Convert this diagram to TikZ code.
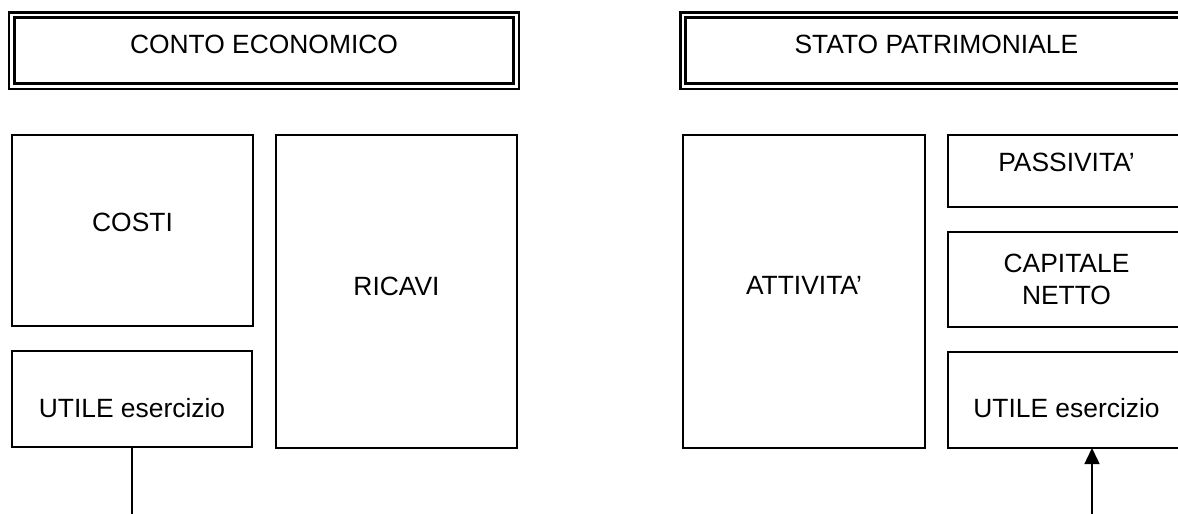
\documentclass[tikz,border=0pt]{standalone}
\usepackage{fontspec}
\setmainfont{Liberation Sans}
\usetikzlibrary{positioning, arrows.meta}

\begin{document}
\begin{tikzpicture}[x=1pt, y=-1pt, >={Triangle[length=16pt, width=15pt]},
    font=\fontsize{26.4}{32}\selectfont,
    box/.style={draw, line width=1.8pt, outer sep=0pt, inner sep=0pt, align=center},
    titlebox/.style={draw, line width=2.5pt, double, double distance=2.6pt,
                     outer sep=0pt, inner sep=0pt},
    liftup/.style={text depth=#1},
    pushdown/.style={text height=#1}]
  \useasboundingbox (0,0) rectangle (1178,514);
  \clip (0,0) rectangle (1178,514);

  % titles
  \node[titlebox, minimum width=504.5pt, minimum height=71.4pt, liftup=13pt]
    (conto) at (264,50.5) {CONTO ECONOMICO};
  \node[titlebox, minimum width=507.2pt, minimum height=71.4pt, liftup=13pt]
    (stato) at (936.4,50.5) {STATO PATRIMONIALE};

  % conto economico
  \node[box, minimum width=241pt, minimum height=191pt, liftup=17pt]
    (costi) at (132.5,230.5) {COSTI};
  \node[box, minimum width=240pt, minimum height=96pt, pushdown=38pt,
        below=25pt of costi.south west, anchor=north west] (utilece) {UTILE esercizio};
  \node[box, minimum width=241pt, minimum height=313pt, liftup=11pt,
        right=23pt of costi.north east, anchor=north west] (ricavi) {RICAVI};

  % stato patrimoniale
  \node[box, minimum width=242pt, minimum height=313pt, liftup=12pt]
    (attivita) at (804,291.5) {ATTIVITA'};
  \node[box, minimum width=237pt, minimum height=72pt, liftup=17pt,
        right=23pt of attivita.north east, anchor=north west] (passivita) {PASSIVITA'};
  \node[box, minimum width=237pt, minimum height=95pt,
        below=25pt of passivita.south west, anchor=north west] (capitale) {CAPITALE\\NETTO};
  \node[box, minimum width=237pt, minimum height=96pt, pushdown=36pt,
        below=25pt of capitale.south west, anchor=north west] (utilesp) {UTILE esercizio};

  % links
  \coordinate (downce) at (utilece.south |- 0,520);
  \coordinate (upsp) at (1092,520);
  \draw[line width=1.5pt] (utilece) -- (downce);
  \draw[->, line width=1.5pt] (upsp) -- (upsp |- utilesp.south);
\end{tikzpicture}
\end{document}
